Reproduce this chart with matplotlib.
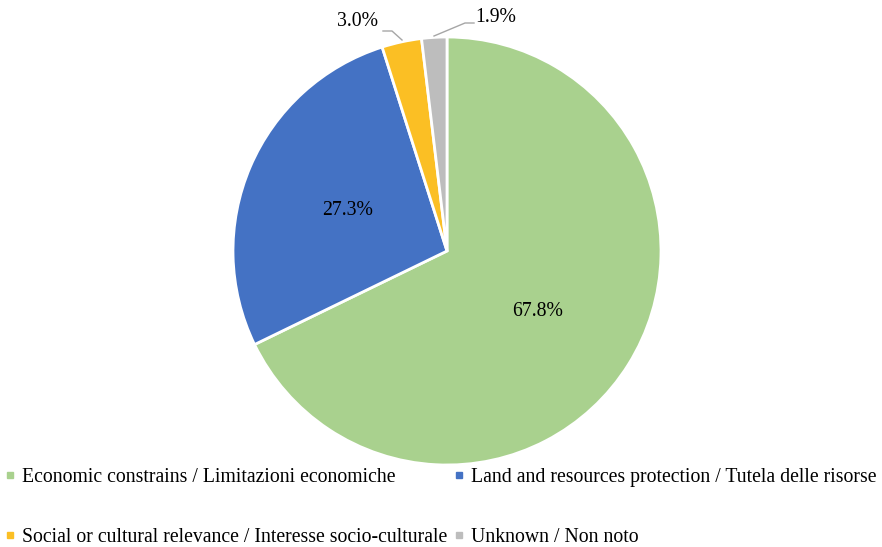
import matplotlib
matplotlib.use("Agg")
import matplotlib.pyplot as plt
from matplotlib.lines import Line2D

categories = ["Economic constrains / Limitazioni economiche",
              "Land and resources protection / Tutela delle risorse",
              "Social or cultural relevance / Interesse socio-culturale",
              "Unknown / Non noto"]
values = [67.8, 27.3, 3.0, 1.9]
colors = ["#A9D18E", "#4472C4", "#FBBF24", "#BDBDBD"]

plt.rcParams['font.family'] = ['Liberation Serif', 'DejaVu Serif']

W, H = 882, 547
fig = plt.figure(figsize=(W/100, H/100), dpi=100)
cx, cy, r = 447, 251, 214
ax = fig.add_axes([(cx-r)/W, (H-cy-r)/H, 2*r/W, 2*r/H])
wedges, _ = ax.pie(values, colors=colors, startangle=90, counterclock=False,
                   radius=1, wedgeprops=dict(edgecolor='white', linewidth=2))
ax.set_xlim(-1, 1)
ax.set_ylim(-1, 1)
ax.set_aspect('auto')
ax.axis('off')

fs = 14.2
# labels inside
ax.text(0.425, -0.285, f"{values[0]:.1f}%", ha='center', va='center', fontsize=fs)
ax.text(-0.463, 0.187, f"{values[1]:.1f}%", ha='center', va='center', fontsize=fs)

def px(x, y):
    return ((x-cx)/r, (cy-y)/r)

# outside labels with leader lines
t3 = px(357, 22)
ax.text(t3[0], t3[1], f"{values[2]:.1f}%", ha='center', va='center', fontsize=fs, clip_on=False)
p = [px(383, 31), px(392, 31), px(402, 40)]
ax.add_line(Line2D([q[0] for q in p], [q[1] for q in p], color='#A6A6A6', lw=1, clip_on=False))
t4 = px(496, 17)
ax.text(t4[0], t4[1], f"{values[3]:.1f}%", ha='center', va='center', fontsize=fs, clip_on=False)
p = [px(474, 23), px(465, 23), px(434, 36)]
ax.add_line(Line2D([q[0] for q in p], [q[1] for q in p], color='#A6A6A6', lw=1, clip_on=False))

order = [0, 2, 1, 3]
handles = [Line2D([], [], marker='s', linestyle='', color=colors[i], markersize=5) for i in order]
labels = [categories[i] for i in order]
leg = fig.legend(handles, labels, ncol=2, loc='upper left', bbox_to_anchor=(0.0, (H-464)/H),
                 frameon=False, fontsize=fs, handlelength=0.6, handletextpad=0.3,
                 labelspacing=2.1, columnspacing=0.3, borderaxespad=0, borderpad=0.2)

fig.savefig("out.png", dpi=100)
